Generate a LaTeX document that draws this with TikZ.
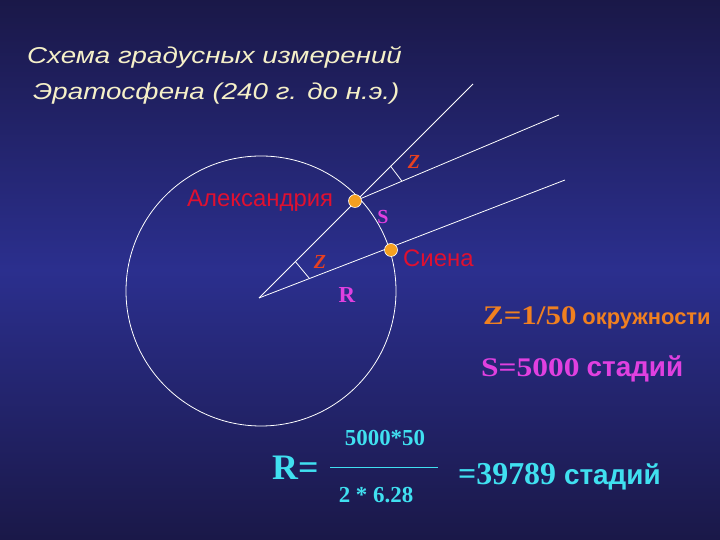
\documentclass[tikz,border=0pt]{standalone}
\usepackage{fontspec}
\usepackage{graphicx}
\setmainfont{Liberation Sans}
\newfontfamily\tnr{Liberation Serif}
\usetikzlibrary{calc}
\definecolor{bgdark}{HTML}{1A1848}
\definecolor{bgmid}{HTML}{2B2F8E}
\definecolor{titlecol}{HTML}{F5F0C8}
\definecolor{cityred}{HTML}{E01030}
\definecolor{zred}{HTML}{E84020}
\definecolor{dotorange}{HTML}{F5A020}
\definecolor{zorange}{HTML}{F08020}
\definecolor{smag}{HTML}{E040E0}
\definecolor{rcyan}{HTML}{40E0F0}
\begin{document}
\begin{tikzpicture}[x=1bp,y=1bp,
  ray/.style={white,line width=0.8bp},
  city/.style={cityred,anchor=base west,inner sep=0pt,font=\fontsize{24}{24}\selectfont},
  title line/.style={titlecol,anchor=base west,inner sep=0pt,font=\itshape\fontsize{23}{23}\selectfont},
  zmark/.style={zred,font=\tnr\bfseries\itshape\fontsize{20}{20}\selectfont},
  dot/.style={fill=dotorange,draw=white,line width=0.6bp}]
\useasboundingbox (0,0) rectangle (720,540);
\shade [top color=bgdark,bottom color=bgdark,middle color=bgmid] (0,0) rectangle (720,540);
% title
\node (title_1) [title line] at (27,476) {\scalebox{1.21}[1]{Схема градусных измерений}};
\node (title_2) [title line] at (33,440) {\scalebox{1.21}[1]{Эратосфена (240 г. до н.э.)}};
% earth and rays
\draw [ray] (261,249) coordinate (c) circle (135);
\draw [ray] (259,242) coordinate (o) -- (473,456) coordinate (r_1);
\draw [ray] (355,339) coordinate (p_1) -- (559,425) coordinate (r_2);
\draw [ray] (o) -- (565,360) coordinate (r_3);
\coordinate (p_2) at (391,290);
\draw [ray] ($(p_1)!0.3!(r_1)$) -- ($(p_1)!0.23!(r_2)$);
\draw [ray] ($(o)!0.17!(r_1)$) -- ($(o)!0.165!(r_3)$);
\filldraw [dot] (p_1) circle (6.5);
\filldraw [dot] (p_2) circle (6.5);
\node (alex) [city] at (187,333) {Александрия};
\node (siena) [city] at (403,273) {Сиена};
\node (z_1) [zmark] at (414,378) {Z};
\node (z_2) [zmark] at (320,278) {Z};
\node (s) [smag,font=\tnr\bfseries\fontsize{20}{20}\selectfont] at (383,323) {S};
\node (r) [smag,font=\tnr\bfseries\fontsize{23}{23}\selectfont] at (347,245) {R};
% formulas
\node (zeq) [zorange,anchor=base west,inner sep=0pt] at (483,215)
  {\scalebox{1.15}[1]{\tnr\bfseries\fontsize{27}{27}\selectfont Z=1/50}\hspace{6bp}\rmfamily\bfseries\fontsize{22}{22}\selectfont окружности};
\node (seq) [smag,anchor=base west,inner sep=0pt] at (481,163)
  {\scalebox{1.17}[1]{\tnr\bfseries\fontsize{27}{27}\selectfont S=5000}\hspace{7bp}\rmfamily\bfseries\fontsize{28}{28}\selectfont стадий};
\node (req) [rcyan,anchor=base west,inner sep=0pt,font=\tnr\bfseries\fontsize{36}{36}\selectfont] at (272,60) {R=};
\node (num) [rcyan,font=\tnr\bfseries\fontsize{23}{23}\selectfont] at (385,102) {5000*50};
\node (den) [rcyan,font=\tnr\bfseries\fontsize{23}{23}\selectfont] at (376,45) {2 * 6.28};
\draw [rcyan,line width=0.8bp] (330,73) coordinate (f_1) -- (438,73) coordinate (f_2);
\node (res) [rcyan,anchor=base west,inner sep=0pt] at (458,55)
  {\tnr\bfseries\fontsize{32}{32}\selectfont =39789 \rmfamily\bfseries\fontsize{28}{28}\selectfont стадий};
\end{tikzpicture}
\end{document}
